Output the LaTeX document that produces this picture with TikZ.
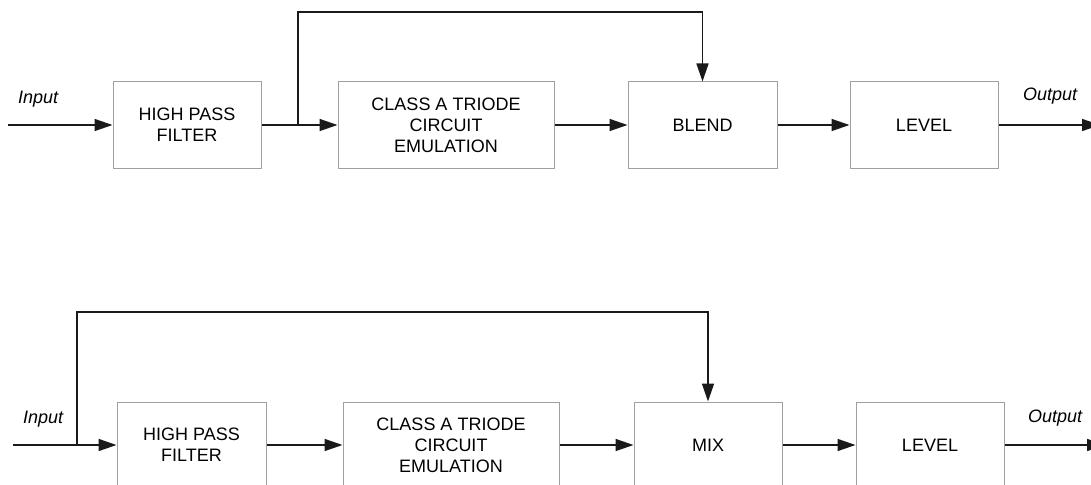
\documentclass[tikz,border=0pt]{standalone}
\usepackage{fontspec}
\setmainfont{Liberation Sans}
\usetikzlibrary{arrows.meta}

\definecolor{boxline}{HTML}{A0A0A0}
\definecolor{wire}{HTML}{1A1A1A}

\tikzset{
  blk/.style={draw=boxline, line width=1pt, rectangle, inner sep=0pt,
              minimum height=86pt, align=center,
              font=\fontsize{18}{21}\selectfont},
  sig/.style={draw=wire, line width=1.5pt,
              -{Triangle[length=18pt,width=12pt]}},
  plain/.style={draw=wire, line width=1.5pt},
  lbl/.style={anchor=base west, inner sep=0pt,
              font=\fontsize{18}{21}\selectfont\itshape}
}

\begin{document}
\begin{tikzpicture}[x=1pt, y=-1pt]
  \useasboundingbox (0,0) rectangle (1091,484);
  \clip (0,0) rectangle (1091,484);

  % first chain: parallel path around the triode stage into BLEND
  \node[blk, minimum width=148pt] (hpf1) at (187,125) {HIGH PASS\\FILTER};
  \node[blk, minimum width=216pt] (cls1) at (446,125) {CLASS A TRIODE\\CIRCUIT\\EMULATION};
  \node[blk, minimum width=149pt] (bld1) at (702.5,125) {BLEND};
  \node[blk, minimum width=148pt] (lvl1) at (924,125) {LEVEL};

  \coordinate (in1) at (8,125);
  \coordinate (out1) at (1100,125);
  \coordinate (tap1) at (298,125);
  \coordinate (up1) at (298,12);

  \node[lbl] (inlbl1) at (18,103) {Input};
  \node[lbl] (outlbl1) at (1023,101) {Output};

  \draw[sig] (in1) -- (hpf1.west);
  \draw[plain] (hpf1.east) -- (tap1);
  \draw[sig] (tap1) -- (cls1.west);
  \draw[sig] (tap1) -- (up1) -| (bld1.north);
  \draw[sig] (cls1.east) -- (bld1.west);
  \draw[sig] (bld1.east) -- (lvl1.west);
  \draw[sig] (lvl1.east) -- (out1);

  % second chain: dry input taken before the filter into MIX
  \node[blk, minimum width=149pt] (hpf2) at (191.5,445) {HIGH PASS\\FILTER};
  \node[blk, minimum width=216pt] (cls2) at (451,445) {CLASS A TRIODE\\CIRCUIT\\EMULATION};
  \node[blk, minimum width=148pt] (mix2) at (708,445) {MIX};
  \node[blk, minimum width=148pt] (lvl2) at (930,445) {LEVEL};

  \coordinate (in2) at (13,445);
  \coordinate (out2) at (1105,445);
  \coordinate (tap2) at (77,445);
  \coordinate (up2) at (77,312);

  \node[lbl] (inlbl2) at (23,423) {Input};
  \node[lbl] (outlbl2) at (1028,422) {Output};

  \draw[plain] (in2) -- (tap2);
  \draw[sig] (tap2) -- (hpf2.west);
  \draw[sig] (tap2) -- (up2) -| (mix2.north);
  \draw[sig] (hpf2.east) -- (cls2.west);
  \draw[sig] (cls2.east) -- (mix2.west);
  \draw[sig] (mix2.east) -- (lvl2.west);
  \draw[sig] (lvl2.east) -- (out2);
\end{tikzpicture}
\end{document}
